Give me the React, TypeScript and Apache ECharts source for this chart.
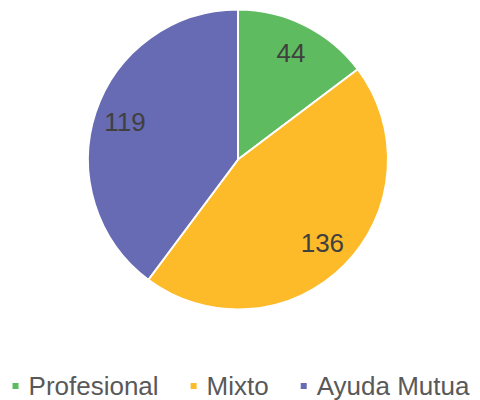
import React, { useEffect, useRef } from "react";
import * as echarts from "echarts";

const categories = ["Profesional", "Mixto", "Ayuda Mutua"];
const values = [44, 136, 119];
const colors = ["#5fbb5f", "#fdbb2a", "#666bb3"];

export default function App() {
  const ref = useRef<HTMLDivElement>(null);
  useEffect(() => {
    if (!ref.current) return;
    const chart = echarts.init(ref.current, undefined, { renderer: "svg" });
    const data = categories.map((name, i) => ({
      name,
      value: values[i],
      itemStyle: { color: colors[i] },
    }));
    chart.setOption({
      animation: false,
      legend: {
        top: 373,
        left: "center",
        padding: 0,
        itemWidth: 8,
        itemHeight: 8,
        itemGap: 30,
        icon: "rect",
        textStyle: {
          fontSize: 26,
          color: "#595959",
          fontFamily: "Liberation Sans, Arial, sans-serif",
          padding: [0, 0, 0, 4],
        },
        data: categories,
      },
      series: [
        {
          type: "pie",
          center: [238, 159.5],
          radius: [0, 150],
          startAngle: 90,
          clockwise: true,
          label: { show: false },
          labelLine: { show: false },
          itemStyle: { borderColor: "#ffffff", borderWidth: 2 },
          emphasis: { disabled: true },
          data,
        },
        {
          type: "pie",
          center: [238, 159.5],
          radius: [98, 134],
          startAngle: 90,
          clockwise: true,
          silent: true,
          legendHoverLink: false,
          itemStyle: { color: "transparent" },
          label: {
            show: true,
            position: "inside",
            formatter: "{c}",
            fontSize: 26,
            color: "#404040",
            fontFamily: "Liberation Sans, Arial, sans-serif",
            padding: [0, 0, 8, 0],
          },
          labelLine: { show: false },
          emphasis: { disabled: true },
          data: categories.map((name, i) => ({ name: name + " ", value: values[i] })),
        },
      ],
    });
    return () => chart.dispose();
  }, []);
  return (
    <div
      ref={ref}
      style={{ position: "absolute", left: 0, top: 0, width: 480, height: 400 }}
    />
  );
}
